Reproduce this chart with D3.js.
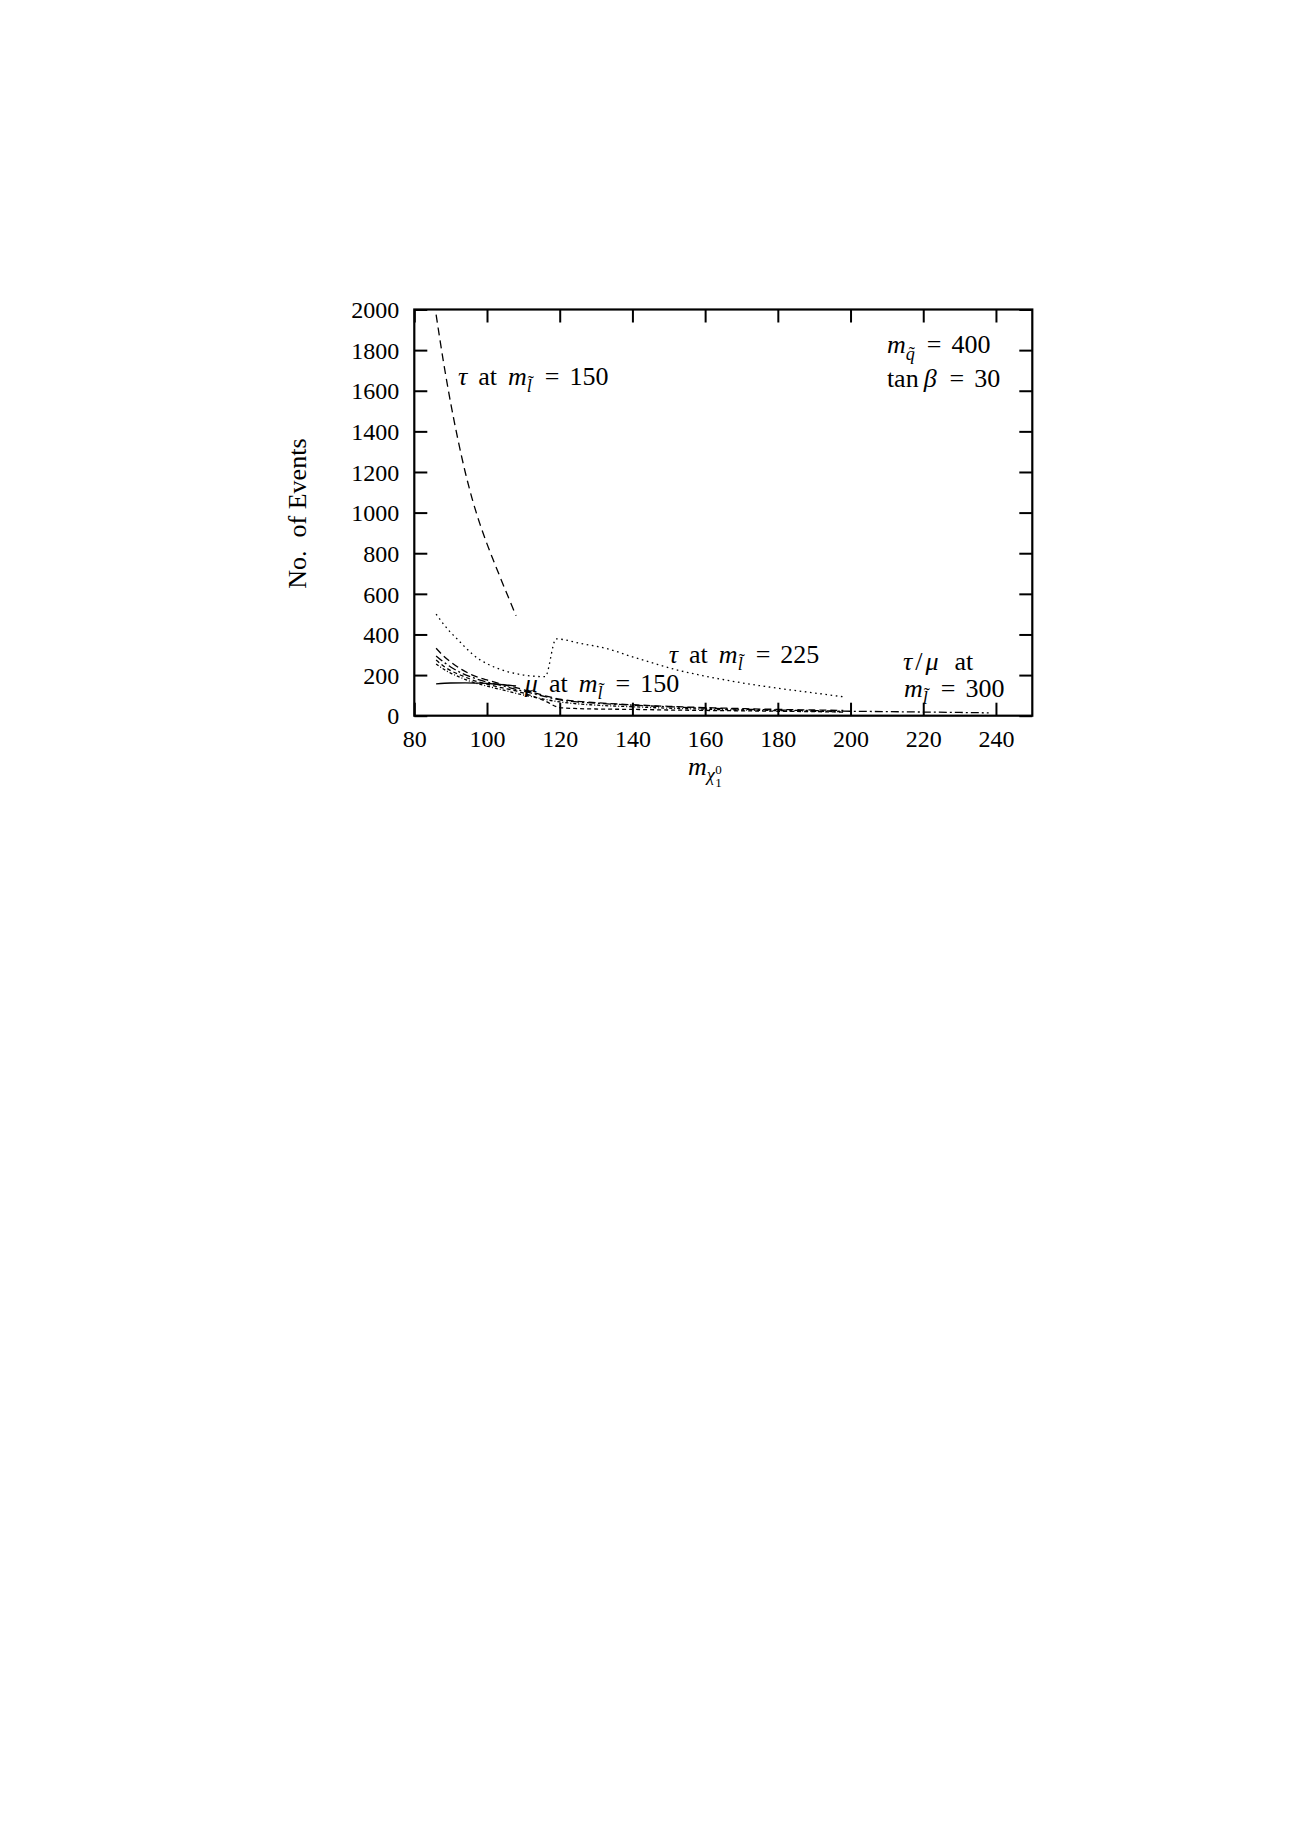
<!DOCTYPE html>
<html><head><meta charset="utf-8">
<script src="https://cdn.jsdelivr.net/npm/d3@7"></script>
<style>
body{margin:0;background:#fff}
text{font-family:"Liberation Serif","Times New Roman",serif;fill:#000}
</style>
</head><body>
<svg id="c" width="1308" height="1847"></svg>
<script>
// ---- data ----
const xTicks = [80,100,120,140,160,180,200,220,240];
const yTicks = [0,200,400,600,800,1000,1200,1400,1600,1800,2000];
const xDomain = [80,250];
const yDomain = [0,2000];

const tau150 = [[86,1975],[88,1745],[90,1540],[92,1360],[94,1200],[96,1063],[98,947],[100,846],[102,754],[104,665],[106,578],[108,492]];
const mu150  = [[86,157],[90,161],[94,162],[98,160],[102,156],[106,150],[108,147]];
const tau225 = [[86,500],[88,452],[90,410],[92,374],[94,337],[96,303],[98,276],[100,256],[102,239],[104,226],[106,215],[108,207],[110,200],[112,196],[114,193],[116,192],[119,378],[126,355],[133,330],[140,290],[147,252],[153,222],[160,195],[170,162],[180,135],[190,112],[198,93]];
const lineA  = [[86,332],[88,295],[90,265],[93,228],[96,200],[100,176],[104,155],[108,138],[112,118],[116,98],[120,82],[130,64],[140,54],[150,46],[160,40],[170,35],[180,31],[190,28],[198,26]];
const lineB  = [[86,294],[88,265],[90,240],[93,210],[96,188],[100,166],[104,148],[108,130],[112,112],[116,94],[120,78],[130,62],[140,52],[150,44],[160,37],[170,32],[180,28],[190,25],[200,22],[210,20],[220,18],[230,16],[238,14]];
const lineC  = [[86,274],[88,245],[90,222],[93,198],[96,176],[100,155],[104,138],[108,122],[112,100],[116,72],[120,40],[125,35],[130,33],[140,31],[150,28],[160,26],[170,24],[180,22],[190,20],[198,18]];
const lineD  = [[86,255],[88,230],[90,210],[93,186],[96,165],[100,146],[104,128],[108,110],[112,95],[116,80],[120,68],[130,52],[140,44],[150,37],[160,32],[170,28],[180,25],[190,22],[198,20]];

// ---- layout ----
const L=414.3, R=1032.3, T=309.5, B=715.7;
const svg = d3.select("#c");
const x = d3.scaleLinear().domain(xDomain).range([L,R]);
const y = d3.scaleLinear().domain(yDomain).range([B,T]);
const FS = 24;   // tick labels
const AS = 26;   // annotations

// axes
const gx = svg.append("g").attr("transform",`translate(0,${B})`)
  .call(d3.axisBottom(x).tickValues(xTicks).tickSizeInner(-13).tickSizeOuter(0).tickPadding(14).tickFormat(d3.format("d")));
const gxt = svg.append("g").attr("transform",`translate(0,${T})`)
  .call(d3.axisTop(x).tickValues(xTicks).tickSizeInner(-13).tickSizeOuter(0).tickFormat(""));
const gy = svg.append("g").attr("transform",`translate(${L},0)`)
  .call(d3.axisLeft(y).tickValues(yTicks).tickSizeInner(-13).tickSizeOuter(0).tickPadding(15).tickFormat(d3.format("d")));
const gyr = svg.append("g").attr("transform",`translate(${R},0)`)
  .call(d3.axisRight(y).tickValues(yTicks).tickSizeInner(-13).tickSizeOuter(0).tickFormat(""));
[gx,gxt,gy,gyr].forEach(g=>{
  g.attr("font-family",null);
  g.select(".domain").remove();
  g.selectAll(".tick line").attr("stroke","#000").attr("stroke-width",2);
  g.selectAll("text").attr("font-size",FS).attr("fill","#000");
});
gy.selectAll("text").attr("dy","0.34em");

svg.append("rect").attr("x",L).attr("y",T).attr("width",R-L).attr("height",B-T)
  .attr("fill","none").attr("stroke","#000").attr("stroke-width",2.2);

// lines
const line = d3.line().x(d=>x(d[0])).y(d=>y(d[1])).curve(d3.curveMonotoneX);
const styles = [
  [tau150,"8,5"],
  [mu150,null],
  [tau225,"1.6,3.6"],
  [lineA,"7,4"],
  [lineB,"8,3,2,3"],
  [lineC,"4,3"],
  [lineD,"3,2,1,2"]
];
styles.forEach(([data,dash])=>{
  const p = svg.append("path").attr("d",line(data)).attr("fill","none")
    .attr("stroke","#000").attr("stroke-width",1.3);
  if(dash) p.attr("stroke-dasharray",dash);
});

// math-like text: pieces placed one after another
function mtext(x0,y0,parts,fs){
  let cx = x0;
  parts.forEach(p=>{
    if(p.gap) cx += p.gap;
    const size = p.sub ? fs*0.7 : fs;
    const by = y0 + (p.sub ? 7 : 0);
    const t = svg.append("text").attr("x",cx).attr("y",by).attr("font-size",size)
      .attr("font-style",p.i?"italic":"normal").text(p.t);
    const w = t.node().getComputedTextLength();
    if(p.tilde!==undefined){
      svg.append("text").attr("x",cx+w/2+1.5).attr("y",by-p.tilde).attr("text-anchor","middle")
        .attr("font-size",fs*0.7).text("\u02DC");
    }
    cx += w;
  });
}
const labels = [
  {x:92.0, y:1628, parts:[{t:"τ",i:true},{t:"at",gap:11},{t:"m",i:true,gap:11},{t:"l",i:true,sub:true,tilde:3},{t:"=",gap:13},{t:"150",gap:10}]},
  {x:210.0,y:1786, parts:[{t:"m",i:true},{t:"q",i:true,sub:true,tilde:0},{t:"=",gap:12},{t:"400",gap:10}]},
  {x:210.0,y:1618, parts:[{t:"tan"},{t:"β",i:true,gap:5},{t:"=",gap:13},{t:"30",gap:10}]},
  {x:110.4,y:117,  parts:[{t:"μ",i:true},{t:"at",gap:11},{t:"m",i:true,gap:11},{t:"l",i:true,sub:true,tilde:3},{t:"=",gap:13},{t:"150",gap:10}]},
  {x:150.0,y:259,  parts:[{t:"τ",i:true},{t:"at",gap:11},{t:"m",i:true,gap:11},{t:"l",i:true,sub:true,tilde:3},{t:"=",gap:13},{t:"225",gap:10}]},
  {x:214.4,y:225,  parts:[{t:"τ",i:true},{t:"/",gap:3},{t:"μ",i:true,gap:3},{t:"at",gap:16}]},
  {x:214.7,y:92,   parts:[{t:"m",i:true},{t:"l",i:true,sub:true,tilde:3},{t:"=",gap:13},{t:"300",gap:10}]}
];
labels.forEach(l=>mtext(x(l.x),y(l.y),l.parts,AS));

// x axis title  m_{chi_1^0}
(function(){
  const x0 = x(155.3), by = 775;
  const m = svg.append("text").attr("x",x0).attr("y",by).attr("font-size",AS).attr("font-style","italic").text("m");
  const w1 = m.node().getComputedTextLength();
  const c = svg.append("text").attr("x",x0+w1).attr("y",by+6).attr("font-size",AS*0.7).attr("font-style","italic").text("χ");
  const w2 = c.node().getComputedTextLength();
  svg.append("text").attr("x",x0+w1+w2+0.5).attr("y",by+12).attr("font-size",AS*0.5).text("1");
  svg.append("text").attr("x",x0+w1+w2+0.5).attr("y",by-1).attr("font-size",AS*0.5).text("0");
})();

// y axis title
svg.append("text").attr("transform",`translate(306,${(T+B)/2+1}) rotate(-90)`)
  .attr("text-anchor","middle").attr("font-size",AS)
  .text("No.\u00A0 of Events");
</script>
</body></html>
